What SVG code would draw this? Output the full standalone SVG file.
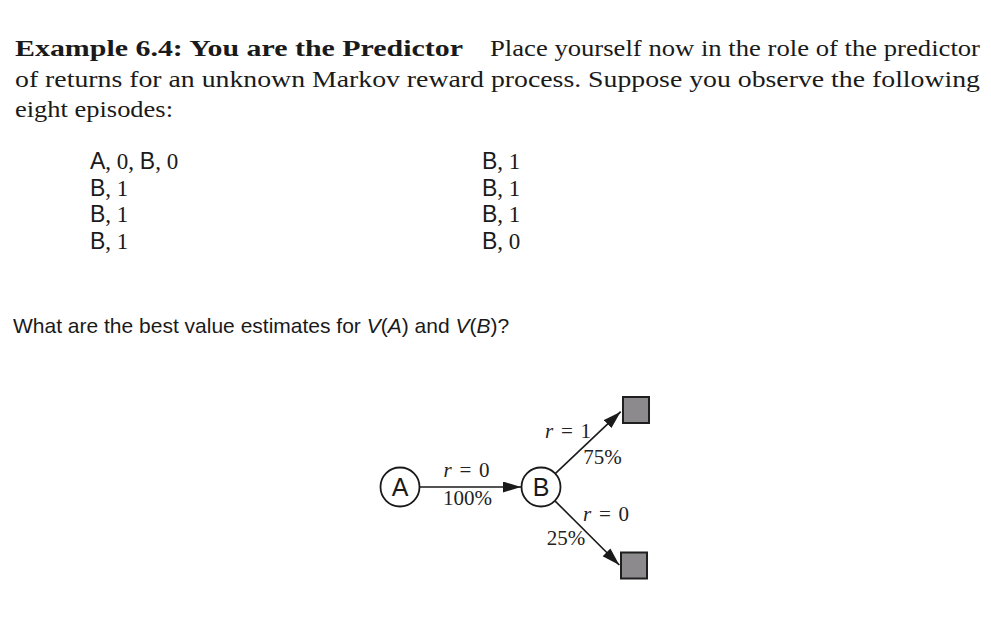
<svg xmlns="http://www.w3.org/2000/svg" width="991" height="618" viewBox="0 0 991 618">
<defs>
<style>
.serif{font-family:"Liberation Serif","DejaVu Serif",serif;fill:#1a1a1a}
.sans{font-family:"Liberation Sans",Arial,sans-serif;fill:#1a1a1a}
.para{font-size:24px}
.ep{font-size:23px}
.lbl{font-family:"Liberation Serif","DejaVu Serif",serif;font-size:21px;fill:#222;text-anchor:middle;word-spacing:2.5px}
.node{fill:#fff;stroke:#1a1a1a;stroke-width:1.8}
.term{fill:#8d8a8d;stroke:#1f1f1f;stroke-width:2}
.edge{stroke:#1a1a1a;stroke-width:1.6;fill:none}
</style>
<marker id="ah" markerUnits="userSpaceOnUse" markerWidth="20" markerHeight="12" refX="18" refY="5.5" orient="auto">
<path d="M0,0 L18,5.5 L0,11 z" fill="#1a1a1a"/>
</marker>
</defs>
<rect width="991" height="618" fill="#fff"/>

<g id="paragraph">
<text class="serif para" x="15" y="56" font-weight="bold" textLength="448" lengthAdjust="spacingAndGlyphs">Example 6.4: You are the Predictor</text>
<text class="serif para" x="490" y="56" textLength="490" lengthAdjust="spacingAndGlyphs">Place yourself now in the role of the predictor</text>
<text class="serif para" x="15" y="87" textLength="965" lengthAdjust="spacingAndGlyphs">of returns for an unknown Markov reward process. Suppose you observe the following</text>
<text class="serif para" x="15" y="117" textLength="158" lengthAdjust="spacingAndGlyphs">eight episodes:</text>
</g>

<g id="episodes" class="ep">
<text x="90" y="169"><tspan class="sans">A</tspan><tspan class="serif">, 0, </tspan><tspan class="sans">B</tspan><tspan class="serif">, 0</tspan></text>
<text x="90" y="195.5"><tspan class="sans">B</tspan><tspan class="serif">, 1</tspan></text>
<text x="90" y="222"><tspan class="sans">B</tspan><tspan class="serif">, 1</tspan></text>
<text x="90" y="248.5"><tspan class="sans">B</tspan><tspan class="serif">, 1</tspan></text>
<text x="482" y="169"><tspan class="sans">B</tspan><tspan class="serif">, 1</tspan></text>
<text x="482" y="195.5"><tspan class="sans">B</tspan><tspan class="serif">, 1</tspan></text>
<text x="482" y="222"><tspan class="sans">B</tspan><tspan class="serif">, 1</tspan></text>
<text x="482" y="248.5"><tspan class="sans">B</tspan><tspan class="serif">, 0</tspan></text>
</g>

<g id="question">
<text class="sans" x="13" y="333" font-size="21">What are the best value estimates for <tspan font-style="italic">V</tspan>(<tspan font-style="italic">A</tspan>) and <tspan font-style="italic">V</tspan>(<tspan font-style="italic">B</tspan>)?</text>
</g>

<g id="connectors">
<line class="edge" x1="420" y1="487" x2="521" y2="487" marker-end="url(#ah)"/>
<line class="edge" x1="555.5" y1="473.3" x2="620.7" y2="411.7" marker-end="url(#ah)"/>
<line class="edge" x1="555.2" y1="501.1" x2="619.3" y2="565" marker-end="url(#ah)"/>
<text class="lbl" x="466.5" y="477"><tspan font-style="italic">r</tspan> = 0</text>
<text class="lbl" x="467.5" y="505">100%</text>
<text class="lbl" x="568" y="438"><tspan font-style="italic">r</tspan> = 1</text>
<text class="lbl" x="602.5" y="464">75%</text>
<text class="lbl" x="606" y="521"><tspan font-style="italic">r</tspan> = 0</text>
<text class="lbl" x="566" y="545">25%</text>
</g>

<g id="node-A">
<circle class="node" cx="400" cy="487" r="19.5"/>
<text class="sans" x="400" y="496" font-size="25" text-anchor="middle">A</text>
</g>
<g id="node-B">
<circle class="node" cx="541" cy="487" r="19.5"/>
<text class="sans" x="541" y="496" font-size="25" text-anchor="middle">B</text>
</g>
<g id="terminal-top">
<rect class="term" x="623" y="397" width="26" height="26"/>
</g>
<g id="terminal-bottom">
<rect class="term" x="621" y="552.5" width="26" height="26"/>
</g>
</svg>
